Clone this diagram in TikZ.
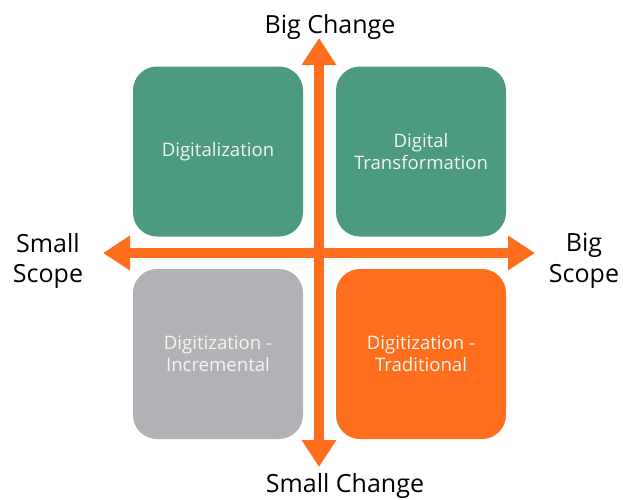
\documentclass[tikz,border=0pt]{standalone}
\usepackage{fontspec}
\setmainfont{Open Sans}
\usetikzlibrary{arrows.meta}
\definecolor{qgreen}{HTML}{4B9A81}
\definecolor{qgray}{HTML}{B1B2B5}
\definecolor{qorange}{HTML}{FF6E1D}
\definecolor{qtext}{HTML}{F4F4F0}
\tikzset{
  quad/.style={rounded corners=24pt, minimum width=170pt, minimum height=170pt, inner sep=0pt, align=center, text=qtext, font=\fontsize{18.6}{21.5}\selectfont},
  axis/.style={line width=10pt, qorange, {Triangle[width=33pt,length=27pt]}-{Triangle[width=33pt,length=27pt]}},
  axlabel/.style={align=center, text=black, font=\fontsize{25}{30.5}\selectfont, inner sep=0pt}
}
\begin{document}
\begin{tikzpicture}[x=1pt,y=-1pt]
\useasboundingbox (0,0) rectangle (623,499);
\node[quad, fill=qgreen] (dz) at (218,151.5) {Digitalization};
\node[quad, fill=qgreen] (dt) at (421,151.5) {Digital\\Transformation};
\node[quad, fill=qgray] (di) at (218,354) {Digitization -\\Incremental};
\node[quad, fill=qorange] (dtr) at (421,354) {Digitization -\\Traditional};
\coordinate (top) at (319,38);
\coordinate (bot) at (319,467);
\coordinate (lft) at (103,253);
\coordinate (rgt) at (535,253);
\draw[axis] (lft) -- (rgt);
\draw[axis] (bot) -- (top);
\node[axlabel, anchor=base] (bc) at (330,33) {Big Change};
\node[axlabel, anchor=base] (sc) at (345,492) {Small Change};
\node[axlabel] (ss) at (48,261) {Small\\Scope};
\node[axlabel] (bs) at (584,261) {Big\\Scope};
\end{tikzpicture}
\end{document}
